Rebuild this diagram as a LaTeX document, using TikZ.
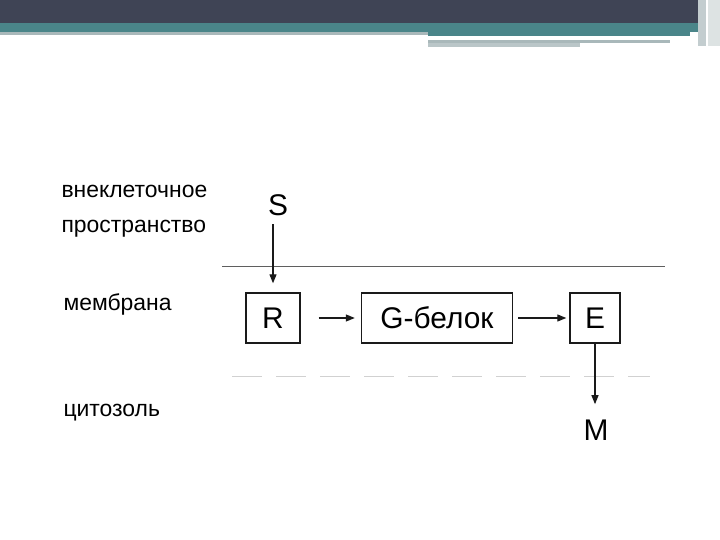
\documentclass[tikz,border=0pt]{standalone}
\usepackage{fontspec}
\setmainfont{Liberation Sans}
\usepackage{xcolor}
\usetikzlibrary{arrows.meta,positioning}
\definecolor{slate}{HTML}{3F4455}
\definecolor{teal}{HTML}{4A8589}
\definecolor{rule}{HTML}{A9B8BA}
\definecolor{ink}{HTML}{1A1A1A}

\begin{document}
\begin{tikzpicture}[x=1bp,y=-1bp,
    blk/.style={draw=ink,line width=1.4pt,minimum height=50bp,inner sep=0pt,
                text height=21bp,text depth=0bp,font=\fontsize{30}{32}\selectfont},
    sig/.style={font=\fontsize{30}{32}\selectfont},
    zone/.style={font=\fontsize{23}{35}\selectfont,anchor=west,align=left},
    flow/.style={draw=ink,line width=1.2pt,-{Triangle[length=9bp,width=7bp]}}]
  \useasboundingbox[fill=white] (0,0) rectangle (720,540);
  % slide header
  \fill[slate] (0,0) rectangle (698,23);
  \fill[teal] (0,23) rectangle (698,32);
  \fill[rule] (0,32) rectangle (428,35);
  \fill[teal] (428,32) rectangle (690,36);
  \fill[rule] (428,40) rectangle (670,43);
  \fill[rule!80] (428,43) rectangle (580,47);
  \fill[rule!70] (698,0) rectangle (706,46);
  \fill[rule!40] (708,0) rectangle (720,46);
  % layers
  \draw[ink!70,line width=1pt] (222,266) -- (665,266);
  \draw[ink!20,line width=1pt,dash pattern=on 30bp off 14bp] (232,376) -- (650,376);
  \node[zone] (out) at (58,211) {внеклеточное\\пространство};
  \node[zone] (mem) at (60,304) {мембрана};
  \node[zone] (cyt) at (60,413) {цитозоль};
  % signal chain
  \node[blk,minimum width=54bp] (r) at (273,318) {R};
  \node[blk,minimum width=151bp] (g) at (437,318) {G-белок};
  \node[blk,minimum width=50bp] (e) at (595,318) {E};
  \node[sig] (s) at (278,205) {S};
  \node[sig] (m) at (596,430) {M};
  \draw[flow] ([yshift=-5bp]r.north |- s.south) -- ([yshift=9bp]r.north);
  \draw[flow] ([xshift=18bp]r.east) -- ([xshift=-6bp]g.west);
  \draw[flow] ([xshift=5bp]g.east) -- ([xshift=-3bp]e.west);
  \draw[flow] (e.south) -- ([yshift=12bp]e.south |- m.north);
\end{tikzpicture}
\end{document}
